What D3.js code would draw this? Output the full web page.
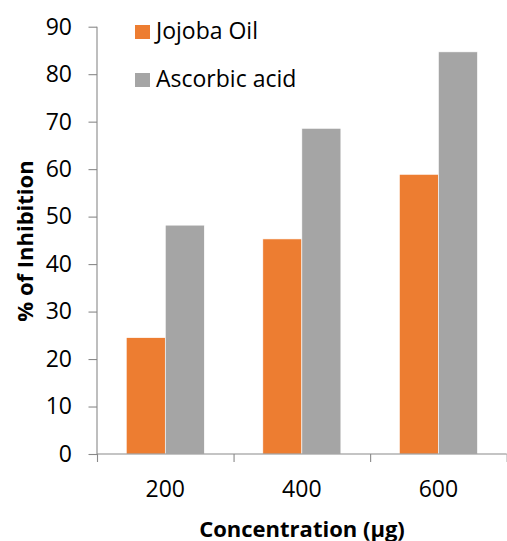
<!DOCTYPE html>
<html>
<head>
<meta charset="utf-8">
<script src="https://cdn.jsdelivr.net/npm/d3@7"></script>
<style>
  html, body { margin: 0; padding: 0; background: #fff; }
  svg { display: block; font-family: "Open Sans", sans-serif; }
</style>
</head>
<body>
<svg id="chart" width="507" height="541"></svg>
<script>
// Concentrations tested
const categories = ["200", "400", "600"];
// Series names (legend order)
const seriesNames = ["Jojoba Oil", "Ascorbic acid"];
// % inhibition per concentration
const jojobaOil = [24.5, 45.3, 58.9];
const ascorbicAcid = [48.2, 68.6, 84.7];
// Y axis tick values
const yTicks = [0, 10, 20, 30, 40, 50, 60, 70, 80, 90];

const colors = { "Jojoba Oil": "#ED7D31", "Ascorbic acid": "#A5A5A5" };
const seriesValues = { "Jojoba Oil": jojobaOil, "Ascorbic acid": ascorbicAcid };

const svg = d3.select("#chart");
const plotLeft = 97, plotRight = 506.7, plotTop = 26.7, plotBottom = 454;
const axisColor = "#898989";

const y = d3.scaleLinear().domain([0, 90]).range([plotBottom, plotTop]);
const x0 = d3.scaleBand().domain(categories).range([plotLeft, plotRight]).padding(0);
const x1 = d3.scaleBand().domain(seriesNames).range([0, x0.bandwidth()])
  .paddingInner(0).paddingOuter(0.75);

// Bars
const groups = svg.append("g").selectAll("g")
  .data(categories)
  .join("g")
  .attr("transform", d => `translate(${x0(d)},0)`);

groups.selectAll("rect")
  .data((c, i) => seriesNames.map(s => ({ s, v: seriesValues[s][i] })))
  .join("rect")
  .attr("x", d => x1(d.s))
  .attr("width", x1.bandwidth())
  .attr("y", d => y(d.v))
  .attr("height", d => y(0) - y(d.v))
  .attr("fill", d => colors[d.s])
  .attr("stroke", "#fff")
  .attr("stroke-width", 0.6);

// Y axis
const yAxis = svg.append("g")
  .attr("transform", `translate(${plotLeft},0)`)
  .call(d3.axisLeft(y).tickValues(yTicks).tickSize(8.5).tickPadding(16.5));
yAxis.selectAll("path, line").attr("stroke", axisColor).attr("stroke-width", 1.1);
yAxis.select(".domain").attr("d", `M0,${plotTop}V${plotBottom}`);
yAxis.selectAll("text")
  .attr("fill", "#000")
  .style("font-family", "'Open Sans', sans-serif")
  .style("font-size", "23px");

// X axis: ticks on category boundaries, labels centred in each band
const xb = d3.scaleLinear().domain([0, categories.length]).range([plotLeft, plotRight]);
const xAxis = svg.append("g")
  .attr("transform", `translate(0,${plotBottom})`)
  .call(d3.axisBottom(xb).tickValues(d3.range(categories.length + 1)).tickFormat("").tickSize(8));
xAxis.selectAll("path, line").attr("stroke", axisColor).attr("stroke-width", 1.1);
xAxis.select(".domain").attr("d", `M${plotLeft},0H${plotRight}`);

svg.append("g").selectAll("text")
  .data(categories)
  .join("text")
  .attr("x", d => x0(d) + x0.bandwidth() / 2)
  .attr("y", 496.5)
  .attr("text-anchor", "middle")
  .style("font-size", "23px")
  .attr("fill", "#000")
  .text(d => d);

// Axis titles
svg.append("text")
  .attr("x", 302)
  .attr("y", 536.5)
  .attr("text-anchor", "middle")
  .style("font-size", "22px")
  .style("font-weight", "bold")
  .text("Concentration (µg)");

svg.append("text")
  .attr("transform", "translate(32.5,241) rotate(-90)")
  .attr("text-anchor", "middle")
  .style("font-size", "22px")
  .style("font-weight", "bold")
  .text("% of Inhibition");

// Legend
const legend = svg.append("g").selectAll("g")
  .data(seriesNames)
  .join("g")
  .attr("transform", (d, i) => `translate(135,${39 + i * 48})`);
legend.append("rect")
  .attr("x", 0).attr("y", -14)
  .attr("width", 15).attr("height", 14)
  .attr("fill", d => colors[d]);
legend.append("text")
  .attr("x", 21).attr("y", 0)
  .style("font-size", "23px")
  .attr("fill", "#000")
  .text(d => d);
</script>
</body>
</html>
